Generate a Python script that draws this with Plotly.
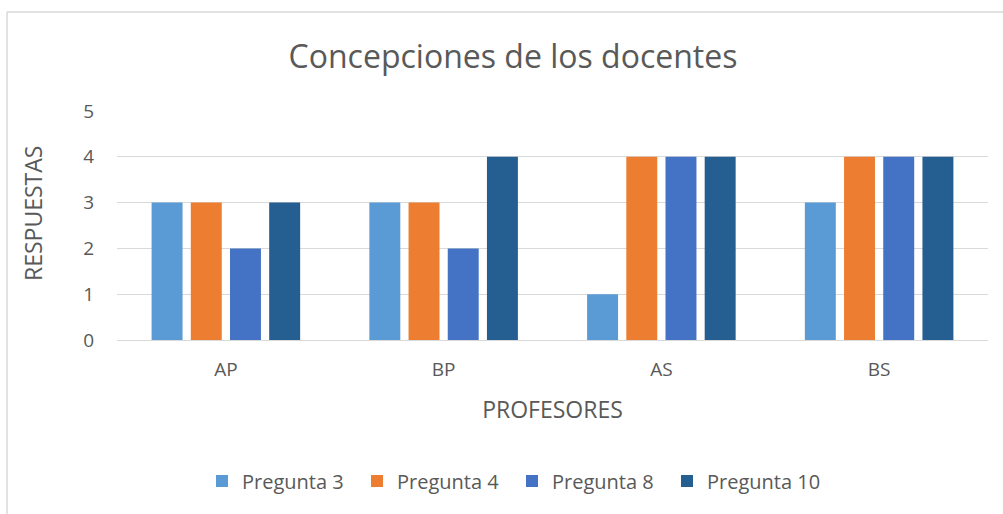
import plotly.graph_objects as go

categories = ["AP", "BP", "AS", "BS"]
series_names = ["Pregunta 3", "Pregunta 4", "Pregunta 8", "Pregunta 10"]
pregunta_3 = [3, 3, 1, 3]
pregunta_4 = [3, 3, 4, 4]
pregunta_8 = [2, 2, 4, 4]
pregunta_10 = [3, 4, 4, 4]
y_ticks = [0, 1, 2, 3, 4, 5]

colors = ["#5B9BD5", "#ED7D31", "#4472C4", "#255E91"]
values = [pregunta_3, pregunta_4, pregunta_8, pregunta_10]

W, H = 1003, 514
L, R, T, B = 117, 15, 111, 174
pw, ph = W - L - R, H - T - B

def px_x(p):
    return (p - L) / pw

def px_y(p):
    return (H - B - p) / ph

fig = go.Figure()
for name, vals, c in zip(series_names, values, colors):
    fig.add_trace(go.Bar(x=categories, y=vals, name=name, marker_color=c,
                         marker_line_width=0))

font_c = "#595959"
fam = "Open Sans"
fig.update_layout(
    width=W, height=H,
    margin=dict(l=L, r=R, t=T, b=B, autoexpand=False),
    paper_bgcolor="white", plot_bgcolor="white",
    barmode="group", bargap=0.28, bargroupgap=0.21,
    font=dict(family=fam, color=font_c, size=18),
    title=dict(text="Concepciones de los docentes", xref="paper", x=px_x(513),
               xanchor="center", y=1 - 57 / H, yanchor="middle",
               font=dict(size=32, color=font_c, family=fam)),
    xaxis=dict(showgrid=False, showline=True, linecolor="#D9D9D9", linewidth=1,
               ticks="", tickfont=dict(size=19, color=font_c), ticklabelstandoff=12,
               title=dict(text="PROFESORES", font=dict(size=23, color=font_c), standoff=21)),
    yaxis=dict(range=[0, 5], tickvals=y_ticks, showgrid=True, gridcolor="#D9D9D9",
               gridwidth=1, zeroline=False, showline=False, ticks="",
               tickfont=dict(size=19, color=font_c), ticklabelstandoff=22),
    legend=dict(orientation="h", x=px_x(512), xanchor="center", y=px_y(481), yanchor="middle",
                font=dict(size=20, color=font_c), itemwidth=30, traceorder="normal",
                entrywidth=110, entrywidthmode="pixels"),
    annotations=[
        dict(text="RESPUESTAS", xref="paper", yref="paper", x=px_x(33), y=px_y(214),
             xanchor="center", yanchor="middle", textangle=-90, showarrow=False,
             font=dict(size=23, color=font_c, family=fam)),
    ],
    shapes=[
        dict(type="line", xref="paper", yref="paper", x0=px_x(7), x1=px_x(1003),
             y0=px_y(12), y1=px_y(12), line=dict(color="#D9D9D9", width=1.5)),
        dict(type="line", xref="paper", yref="paper", x0=px_x(7), x1=px_x(7),
             y0=px_y(12), y1=px_y(514), line=dict(color="#D9D9D9", width=1.5)),
    ],
)

fig.write_html("out.html", config={"displayModeBar": False},
               post_script="document.body.style.margin='0';")
